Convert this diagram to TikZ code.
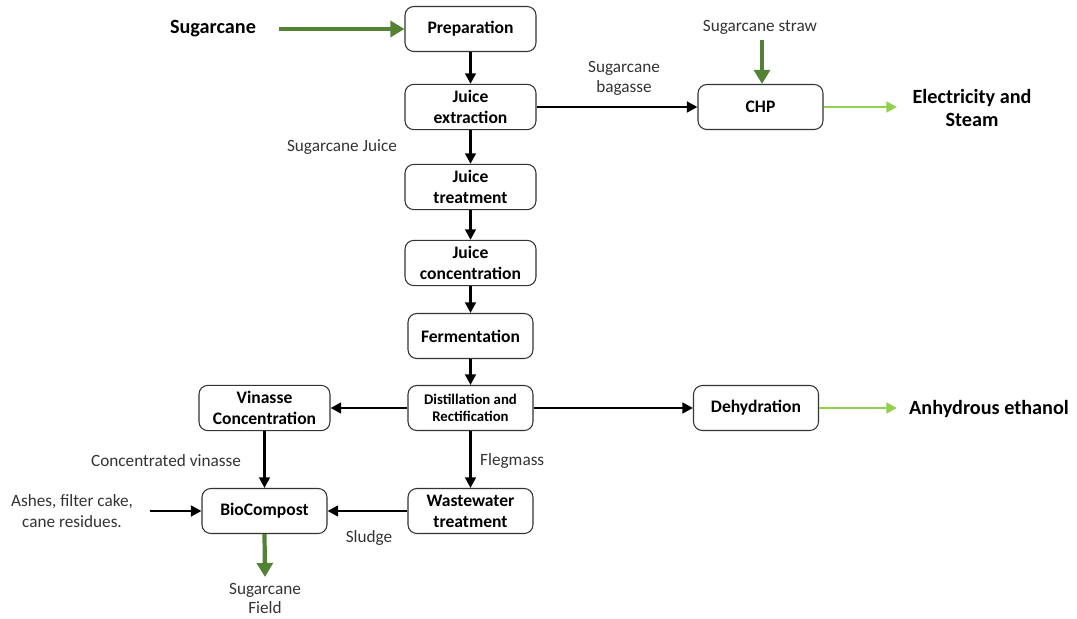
\documentclass[tikz,border=0pt]{standalone}
\usepackage{fontspec}
\setmainfont{Carlito}
\usetikzlibrary{arrows.meta}

\definecolor{darkgreen}{HTML}{548235}
\definecolor{lightgreen}{HTML}{92D050}

\tikzset{
  unitbox/.style={draw=black!80, line width=0.6pt, rounded corners=5pt, fill=white,
    minimum width=2.62cm, minimum height=0.9cm, align=center, font=\fontsize{10}{12}\selectfont\bfseries},
  flow/.style={line width=1.6pt, -{Triangle[length=6pt,width=6pt]}},
  feed/.style={line width=2.4pt, draw=darkgreen, -{Triangle[length=8pt,width=9pt]}, darkgreen},
  product/.style={line width=1.6pt, draw=lightgreen, -{Triangle[length=6pt,width=6pt]}, lightgreen},
  stream/.style={font=\fontsize{9.8}{11.5}\selectfont, text=black!80, align=center},
  outlabel/.style={font=\fontsize{11.5}{13.5}\selectfont\bfseries, align=center}
}

\begin{document}
\begin{tikzpicture}[x=0.02cm,y=-0.02cm]
      % Canvas
      \useasboundingbox (0,0) rectangle (1077,618);

      % ---------- Main line ----------
      \node[unitbox] (prep)  at (470.5,29)  {Preparation};
      \node[unitbox] (ext)   at (470.5,107) {Juice\\extraction};
      \node[unitbox] (treat) at (470.5,187) {Juice\\treatment};
      \node[unitbox] (conc)  at (470.5,263) {Juice\\concentration};
      \node[unitbox, minimum width=2.5cm] (ferm)  at (470.5,336) {Fermentation};
      \node[unitbox, minimum width=2.5cm, font=\fontsize{8.4}{10}\selectfont\bfseries] (dist) at (470.5,408) {Distillation and\\Rectification};
      \node[unitbox, minimum width=2.5cm] (wwt)   at (470.5,511) {Wastewater\\treatment};

      % ---------- Side units ----------
      \node[unitbox] (vin)   at (264.5,408) {Vinasse\\Concentration};
      \node[unitbox, minimum width=2.5cm] (bio)   at (264.5,511) {BioCompost};
      \node[unitbox, minimum width=2.5cm] (dehy)  at (756,408)   {Dehydration};
      \node[unitbox, minimum width=2.5cm] (chp)   at (760.5,107) {CHP};

      % ---------- Outer labels ----------
      \node[outlabel] (cane)  at (213,29)  {Sugarcane};
      \node[outlabel] (elec)  at (972,108) {Electricity and\\Steam};
      \node[outlabel] (etoh)  at (989,409) {Anhydrous ethanol};
      \node[stream] (straw)   at (760,27)  {Sugarcane straw};
      \node[stream] (ashes)   at (72,511)  {Ashes, filter cake,\\cane residues.};
      \node[stream, font=\fontsize{9.8}{10.8}\selectfont] (field) at (265,598) {Sugarcane\\Field};
      \coordinate (canein)  at (279,29);
      \coordinate (strawin) at (762,40);
      \coordinate (elecout) at (897,107);
      \coordinate (etohout) at (897,408);
      \coordinate (ashin)   at (150,511);
      \coordinate (fieldout) at (265,577);

      % ---------- Feeds ----------
      \draw[feed] (canein) -- (prep.west);
      \draw[feed] (strawin) -- (strawin |- chp.north);
      \draw[feed] (bio.south) -- (fieldout);

      % ---------- Process flow ----------
      \draw[flow] (prep) -- (ext);
      \draw[flow] (ext) -- (treat);
      \draw[flow] (treat) -- (conc);
      \draw[flow] (conc) -- (ferm);
      \draw[flow] (ferm) -- (dist);
      \draw[flow] (dist) -- (wwt);
      \draw[flow] (dist) -- (vin);
      \draw[flow] (dist) -- (dehy);
      \draw[flow] (ext) -- (chp);
      \draw[flow] (vin) -- (bio);
      \draw[flow] (wwt) -- (bio);
      \draw[flow] (ashin) -- (bio.west);

      % ---------- Products ----------
      \draw[product] (chp.east) -- (elecout);
      \draw[product] (dehy.east) -- (etohout);

      % ---------- Stream names ----------
      \node[stream] at (624,78)  {Sugarcane\\bagasse};
      \node[stream] at (342,147) {Sugarcane Juice};
      \node[stream] at (166,461) {Concentrated vinasse};
      \node[stream, anchor=west] at (474,461) {Flegmass};
      \node[stream] at (369,538) {Sludge};
    \end{tikzpicture}
\end{document}
